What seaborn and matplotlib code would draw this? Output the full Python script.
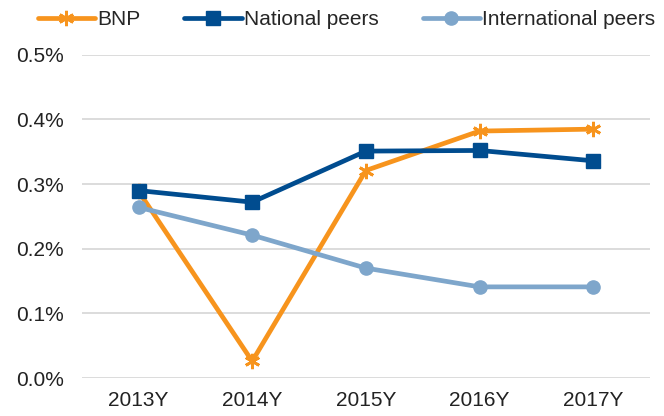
import matplotlib
matplotlib.use("Agg")
import matplotlib.pyplot as plt
import seaborn as sns
import pandas as pd
from matplotlib.ticker import FuncFormatter

years = ["2013Y", "2014Y", "2015Y", "2016Y", "2017Y"]
bnp = [0.289, 0.026, 0.321, 0.382, 0.385]
national = [0.290, 0.272, 0.351, 0.352, 0.336]
international = [0.264, 0.221, 0.170, 0.141, 0.141]
y_ticks = [0.0, 0.1, 0.2, 0.3, 0.4, 0.5]

sns.set_theme(style="white")
plt.rcParams['font.family'] = ['Liberation Sans', 'DejaVu Sans']

fig = plt.figure(figsize=(6.64, 4.16), dpi=100)
ax = fig.add_axes([0.123, 0.0913, 0.856, 0.777])

series = [
    ("BNP", bnp, "#F7941D", (6, 2, 0), 11),
    ("National peers", national, "#004C8F", "s", 9.5),
    ("International peers", international, "#7EA6CB", "o", 9.5),
]
for name, vals, col, mk, ms in series:
    df = pd.DataFrame({"year": years, "value": vals})
    sns.lineplot(data=df, x="year", y="value", ax=ax, color=col, linewidth=3.4,
                 marker=mk, markersize=ms, markeredgecolor=col, markerfacecolor=col,
                 markeredgewidth=2 if name == "BNP" else 1, label=name, sort=False)

ax.set_xlim(-0.5, 4.5)
ax.set_ylim(0, 0.5)
ax.set_yticks(y_ticks)
ax.yaxis.set_major_formatter(FuncFormatter(lambda v, p: f"{v:.1f}%"))
ax.grid(axis="y", color="#D9D9D9", linewidth=1.3)
ax.grid(axis="x", visible=False)
for s in ax.spines.values():
    s.set_visible(False)
ax.set_xlabel("")
ax.set_ylabel("")
ax.tick_params(axis="both", length=0, labelsize=15, colors="#222222")
ax.tick_params(axis="y", pad=13)
ax.tick_params(axis="x", pad=9)
ax.set_axisbelow(True)

ax.legend(loc="center", bbox_to_anchor=(0.522, 0.953), bbox_transform=fig.transFigure,
          ncol=3, frameon=False, fontsize=15, handlelength=2.75, handletextpad=0.12,
          columnspacing=2.1, borderaxespad=0)

fig.savefig("out.png", dpi=100)
